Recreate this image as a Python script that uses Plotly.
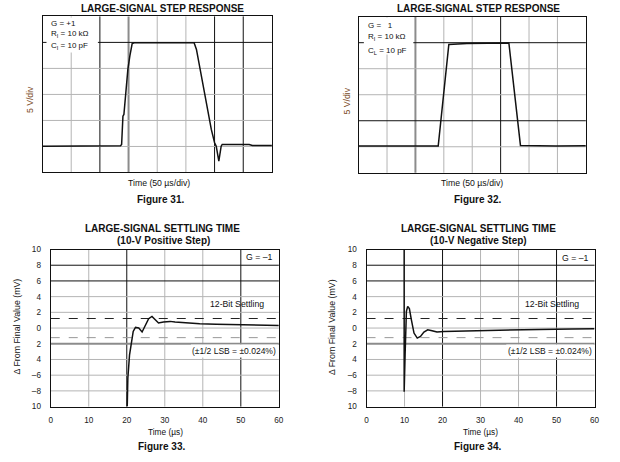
import plotly.graph_objects as go

W, H = 620, 462
FONT = "Liberation Sans, Arial, Helvetica, sans-serif"

# ---------------- data ----------------
# Figure 31: large-signal step response, G = +1 (time in µs, output in V; 50 µs/div, 5 V/div)
f31_t = [0, 129, 136, 137.9, 140.2, 141.9, 148.8, 152.2, 156.4, 160, 205, 264.3,
         268.4, 279.8, 294.3, 300, 302.9, 307.4, 311.5, 313.3, 360.3, 366, 400]
f31_v = [-9.94, -9.94, -9.85, -9.62, -4.17, -3.85, 4.8, 7.37, 9.8, 9.94, 9.94, 9.94,
         8.65, 1.6, -6.73, -9.29, -9.94, -12.83, -9.94, -9.62, -9.62, -9.81, -9.81]

# Figure 32: large-signal step response, G = -1
f32_t = [0, 140.1, 158.8, 190.7, 264.5, 284.9, 347.7, 400]
f32_v = [-9.85, -9.85, 9.67, 9.87, 9.96, -9.75, -9.85, -9.8]

# Figure 33: settling time, 10-V positive step (µs, mV)
f33_t = [20.12, 20.28, 20.73, 21.17, 21.69, 22.29, 23.15, 24.03, 24.9, 25.75, 26.63, 27.5,
         28.35, 29.65, 31.4, 32.7, 35.7, 39.2, 43.5, 47.9, 52.2, 56.5, 60]
f33_mv = [-10, -6.4, -3.4, -1.7, -0.43, 0.08, 0.0, -0.5, 0.42, 1.19, 1.48, 1.06,
          0.64, 0.77, 0.85, 0.77, 0.64, 0.55, 0.47, 0.42, 0.38, 0.38, 0.33]

# Figure 34: settling time, 10-V negative step (µs, mV)
f34_t = [9.9, 9.9, 10.15, 10.3, 10.49, 10.83, 11.27, 11.79, 12.49, 13.35, 14.2, 15.1,
         16.1, 17.25, 18.55, 20.3, 28.1, 36.8, 45.4, 54.1, 60]
f34_mv = [10, -8.1, -3.4, -1.0, 2.12, 2.76, 2.47, 1.06, -0.64, -1.28, -1.07, -0.51,
          -0.22, -0.34, -0.51, -0.45, -0.34, -0.26, -0.17, -0.13, -0.09]

# axis ticks / labels
step_x_grid = [50, 100, 150, 200, 250, 300, 350]
step_y_grid = [-10, -5, 0, 5, 10]
settle_x_ticks = [0, 10, 20, 30, 40, 50, 60]
settle_y_ticks = [10, 8, 6, 4, 2, 0, -2, -4, -6, -8, -10]
settle_y_text = ["10", "8", "6", "4", "2", "0", "2", "4", "\u20136", "\u20138", "10"]
half_lsb_mv = 1.22

# ---------------- helpers (reference pixel -> paper fraction) ----------------
# the captured picture comes out ~2 % shorter around its middle, so spread the layout vertically
SY, CY = 0.98, 231.0

def X(px):
    return px / W

def Y(py):
    return 1 - ((py - CY) / SY + CY) / H

GRAY = "#b4b4b4"
THICK = "#8c8c8c"
DARK = "#111111"

fig = go.Figure()

panels = [
    ("", (41, 273), (17, 173), [0, 400], [-15, 15]),
    ("2", (360.7, 590.5), (17.3, 173.3), [0, 400], [-15, 15]),
    ("3", (49.3, 280), (250, 407), [0, 60], [-10, 10]),
    ("4", (368.7, 599.3), (250, 407), [0, 60], [-10, 10]),
]

layout = dict(
    width=W, height=H, margin=dict(l=0, r=0, t=0, b=0),
    paper_bgcolor="white", plot_bgcolor="white", showlegend=False,
    font=dict(family=FONT, color="#111"),
)

for name, (xa, xb), (ya, yb), xr, yr in panels:
    settle = name in ("3", "4")
    xaxis = dict(domain=[X(xa), X(xb)], range=xr, showgrid=False, zeroline=False,
                 showline=True, mirror=True, linecolor="#111", linewidth=1.3,
                 anchor="y" + name, fixedrange=True)
    yaxis = dict(domain=[Y(yb), Y(ya)], range=yr, showgrid=False, zeroline=False,
                 showline=True, mirror=True, linecolor="#111", linewidth=1.3,
                 anchor="x" + name, fixedrange=True)
    if settle:
        xaxis.update(tickvals=settle_x_ticks, ticks="", ticklabelstandoff=5,
                     tickfont=dict(size=8.2, family=FONT, color="#222"))
        yaxis.update(tickvals=settle_y_ticks, ticktext=settle_y_text, ticks="",
                     ticklabelstandoff=7, tickfont=dict(size=8.2, family=FONT, color="#222"))
    else:
        xaxis.update(showticklabels=False, ticks="")
        yaxis.update(showticklabels=False, ticks="")
    layout["xaxis" + name] = xaxis
    layout["yaxis" + name] = yaxis

fig.update_layout(**layout)

shapes = []

def vline(name, x, color, width):
    shapes.append(dict(type="line", xref="x" + name, yref="y%s domain" % name,
                       x0=x, x1=x, y0=0, y1=1, layer="below",
                       line=dict(color=color, width=width)))

def hline(name, y, color, width, dash="solid"):
    shapes.append(dict(type="line", xref="x%s domain" % name, yref="y" + name,
                       x0=0, x1=1, y0=y, y1=y, layer="below",
                       line=dict(color=color, width=width, dash=dash)))

def style(v, dark, thick):
    if v in thick:
        return THICK, 2
    if v in dark:
        return DARK, 1
    return GRAY, 1

# Figure 31 grid
for v in step_x_grid:
    c, w = style(v, {100, 300, 350}, {150})
    vline("", v, c, w)
for v in step_y_grid:
    c, w = style(v, {10}, set())
    hline("", v, c, w)
# Figure 32 grid
for v in step_x_grid:
    c, w = style(v, {250}, {100})
    vline("2", v, c, w)
for v in step_y_grid:
    c, w = style(v, {10, -5}, set())
    hline("2", v, c, w)
# Figures 33 / 34 grid
for nm in ("3", "4"):
    for v in settle_x_ticks[1:-1]:
        c, w = style(v, {20, 50}, set())
        vline(nm, v, c, w)
    for v in settle_y_ticks[1:-1]:
        c, w = style(v, {8, 6}, {-2})
        hline(nm, v, c, w)
    hline(nm, half_lsb_mv, "#222", 1.1, "dash")
    hline(nm, -half_lsb_mv, "#999", 1, "dash")

# white boxes behind the text blocks
def wbox(x0, x1, y0, y1):
    shapes.append(dict(type="rect", xref="paper", yref="paper",
                       x0=X(x0), x1=X(x1), y0=Y(y1), y1=Y(y0), layer="below",
                       fillcolor="white", line=dict(width=0)))

wbox(45, 97, 18, 53)
wbox(366, 416, 18, 55)
wbox(191, 279, 345, 358)
wbox(510, 598.5, 345, 358)

fig.update_layout(shapes=shapes)

# traces
line = dict(color="#111", width=1.5)
fig.add_trace(go.Scatter(x=f31_t, y=f31_v, mode="lines", line=line, xaxis="x", yaxis="y"))
fig.add_trace(go.Scatter(x=f32_t, y=f32_v, mode="lines", line=line, xaxis="x2", yaxis="y2"))
fig.add_trace(go.Scatter(x=f33_t, y=f33_mv, mode="lines", line=line, xaxis="x3", yaxis="y3"))
fig.add_trace(go.Scatter(x=f34_t, y=f34_mv, mode="lines", line=line, xaxis="x4", yaxis="y4"))

ann = []

def text(px, py, s, size=9, bold=False, anchor="center", color="#111", angle=0):
    if bold:
        s = "<b>%s</b>" % s
    ann.append(dict(xref="paper", yref="paper", x=X(px), y=Y(py), text=s,
                    showarrow=False, xanchor=anchor, yanchor="middle", textangle=angle,
                    font=dict(family=FONT, size=size, color=color)))

# titles / captions
text(162.5, 9.3, "LARGE-SIGNAL STEP RESPONSE", 10, True)
text(481.7, 9.3, "LARGE-SIGNAL STEP RESPONSE", 10, True)
text(158.3, 184, "Time (50 µs/div)", 8.7)
text(475.5, 184, "Time (50 µs/div)", 8.7)
text(160.8, 200, "Figure 31.", 10, True)
text(480.5, 200, "Figure 32.", 10, True)
text(29, 100, "5 V/div", 8.7, color="#7a4a1e", angle=-90)
text(349.3, 101.7, "5 V/div", 8.7, color="#7a4a1e", angle=-90)

text(47.5, 24.5, "G = +1", 8, anchor="left")
text(47.5, 35, "R<sub>I</sub> = 10 kΩ", 8, anchor="left")
text(47.5, 46.5, "C<sub>I</sub> = 10 pF", 8, anchor="left")
text(368.3, 26, "G = \u00a0 1", 8, anchor="left")
text(368.3, 37.5, "R<sub>I</sub> = 10 kΩ", 8, anchor="left")
text(368.3, 51.5, "C<sub>L</sub> = 10 pF", 8, anchor="left")

text(162, 229, "LARGE-SIGNAL SETTLING TIME", 10, True)
text(481.8, 229, "LARGE-SIGNAL SETTLING TIME", 10, True)
text(163, 241, "(10-V Positive Step)", 10, True)
text(482, 241, "(10-V Negative Step)", 10, True)
text(165.2, 432.3, "Time (µs)", 8.3)
text(484.2, 432.3, "Time (µs)", 8.3)
text(161.7, 446.7, "Figure 33.", 10, True)
text(480.5, 447, "Figure 34.", 10, True)
text(15, 327, "Δ From Final Value (mV)", 8.8, angle=-90)
text(333.3, 328, "Δ From Final Value (mV)", 8.8, angle=-90)

text(275, 257.7, "G = \u20131", 8.7, anchor="right")
text(594.3, 258, "G = \u20131", 8.7, anchor="right")
text(237.3, 304, "12-Bit Settling", 8.7)
text(556.7, 304, "12-Bit Settling", 8.7)
text(235, 351, "(±1/2 LSB = ±0.024%)", 8.5)
text(554.2, 351, "(±1/2 LSB = ±0.024%)", 8.5)

fig.update_layout(annotations=ann)

# page without body margin / scrollbars so the figure sits at the window's corner
fit_page = ("document.documentElement.style.margin='0';document.body.style.margin='0';"
            "document.documentElement.style.overflow='hidden';document.body.style.overflow='hidden';")
fig.write_html("out.html", post_script=fit_page, config={"displayModeBar": False})
